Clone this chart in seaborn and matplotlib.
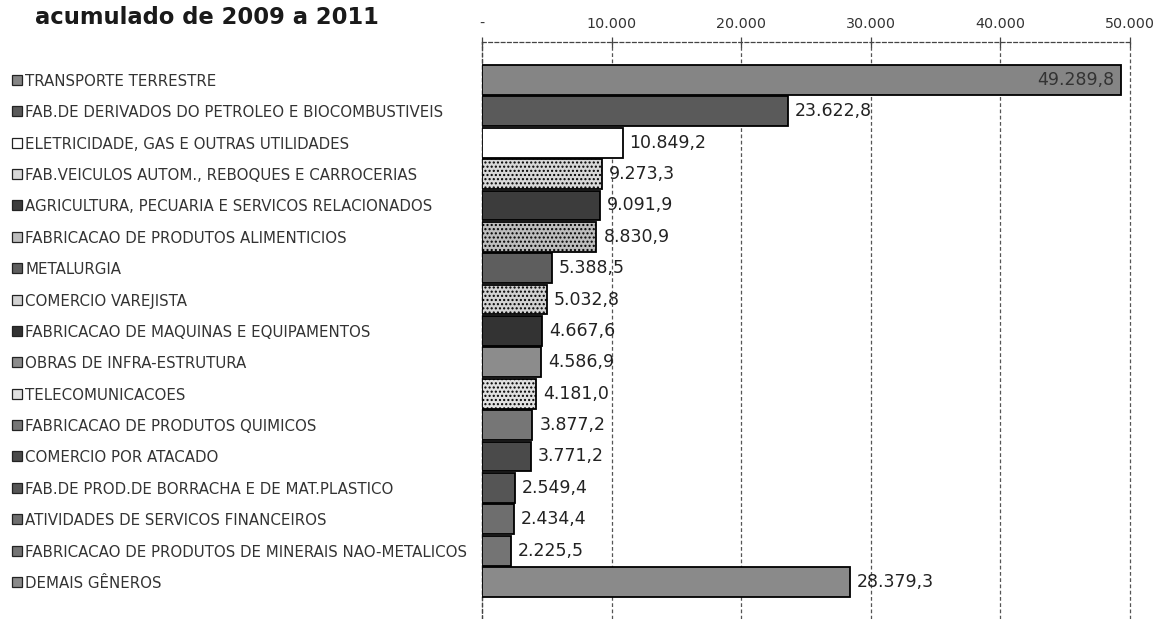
import matplotlib
matplotlib.use("Agg")
import matplotlib.pyplot as plt
import matplotlib.transforms as mtransforms
import seaborn as sns
import pandas as pd

categories = [
    "TRANSPORTE TERRESTRE",
    "FAB.DE DERIVADOS DO PETROLEO E BIOCOMBUSTIVEIS",
    "ELETRICIDADE, GAS E OUTRAS UTILIDADES",
    "FAB.VEICULOS AUTOM., REBOQUES E CARROCERIAS",
    "AGRICULTURA, PECUARIA E SERVICOS RELACIONADOS",
    "FABRICACAO DE PRODUTOS ALIMENTICIOS",
    "METALURGIA",
    "COMERCIO VAREJISTA",
    "FABRICACAO DE MAQUINAS E EQUIPAMENTOS",
    "OBRAS DE INFRA-ESTRUTURA",
    "TELECOMUNICACOES",
    "FABRICACAO DE PRODUTOS QUIMICOS",
    "COMERCIO POR ATACADO",
    "FAB.DE PROD.DE BORRACHA E DE MAT.PLASTICO",
    "ATIVIDADES DE SERVICOS FINANCEIROS",
    "FABRICACAO DE PRODUTOS DE MINERAIS NAO-METALICOS",
    "DEMAIS GÊNEROS",
]
values = [49289.8, 23622.8, 10849.2, 9273.3, 9091.9, 8830.9, 5388.5, 5032.8,
          4667.6, 4586.9, 4181.0, 3877.2, 3771.2, 2549.4, 2434.4, 2225.5, 28379.3]
bar_colors = ["#858585", "#5a5a5a", "#ffffff", "#d8d8d8", "#3c3c3c", "#bdbdbd",
              "#5e5e5e", "#d2d2d2", "#333333", "#8c8c8c", "#e0e0e0", "#767676",
              "#4a4a4a", "#555555", "#6e6e6e", "#747474", "#8a8a8a"]
dotted = [False, False, False, True, False, True, False, True,
          False, False, True, False, False, False, False, False, False]
xticks = [0, 10000, 20000, 30000, 40000, 50000]
xtick_labels = ["-", "10.000", "20.000", "30.000", "40.000", "50.000"]
title = "acumulado de 2009 a 2011"


def br(v):
    s = f"{v:,.1f}"
    return s.replace(",", "X").replace(".", ",").replace("X", ".")


df = pd.DataFrame({"cat": categories, "val": values})

sns.set_style("white")
plt.rcParams["font.family"] = ["DejaVu Sans"]

W, H = 1156, 619
fig = plt.figure(figsize=(W / 100, H / 100), dpi=100)
ax = fig.add_axes([482 / W, 0, 648 / W, 1 - 42 / H])

sns.barplot(data=df, x="val", y="cat", hue="cat", palette=bar_colors,
            legend=False, orient="h", width=0.95, dodge=False, saturation=1,
            edgecolor="black", linewidth=1.3, ax=ax, zorder=3)

for p, d in zip(ax.patches, dotted):
    if d:
        p.set_hatch("....")

ax.set_xlim(0, 50000)
ax.set_ylim(17.18, -1.21)

# top axis
ax.xaxis.tick_top()
ax.set_xticks(xticks)
ax.set_xticklabels(xtick_labels, fontsize=10.3, color="#333333")
ax.tick_params(axis="x", direction="inout", length=7, width=0.9, color="#444444", pad=4.5)
ax.set_xlabel("")
ax.set_ylabel("")

ax.grid(axis="x", linestyle=(0, (3, 2)), color="#555555", linewidth=0.9, zorder=0)
ax.grid(axis="y", visible=False)
for gl in ax.get_xgridlines():
    gl.set_clip_on(False)
for s in ["right", "bottom"]:
    ax.spines[s].set_visible(False)
for s in ["top", "left"]:
    ax.spines[s].set_linestyle((0, (3, 2)))
    ax.spines[s].set_color("#444444")
    ax.spines[s].set_linewidth(0.9)

# category labels on the left
ax.set_yticks(range(len(categories)))
ax.set_yticklabels(categories, fontsize=10.8, color="#333333")
ax.tick_params(axis="y", length=0, pad=(482 - 25) * 0.72)
for t in ax.get_yticklabels():
    t.set_horizontalalignment("left")

# small legend squares before labels
trans = mtransforms.blended_transform_factory(ax.transAxes, ax.transData)
xs = (17 - 482) / 648
for i, c in enumerate(bar_colors):
    ax.plot([xs], [i], marker="s", markersize=6.5, markerfacecolor=c,
            markeredgecolor="#222222", markeredgewidth=0.9, transform=trans,
            clip_on=False, zorder=5)

# value labels
for i, (p, v) in enumerate(zip(ax.patches, values)):
    y = p.get_y() + p.get_height() / 2
    x = p.get_x() + p.get_width()
    if i == 0:
        ax.annotate(br(v), (x, y), xytext=(-5, 0), textcoords="offset points",
                    ha="right", va="center", fontsize=12.5, color="#333333", zorder=6)
    else:
        ax.annotate(br(v), (x, y), xytext=(5, 0), textcoords="offset points",
                    ha="left", va="center", fontsize=12.5, color="#222222", zorder=6)

fig.text(35 / W, 1 - 18 / H, title, fontsize=16.3, fontweight="bold",
         va="center", ha="left", color="#1a1a1a")

fig.savefig("out.png", dpi=100)
